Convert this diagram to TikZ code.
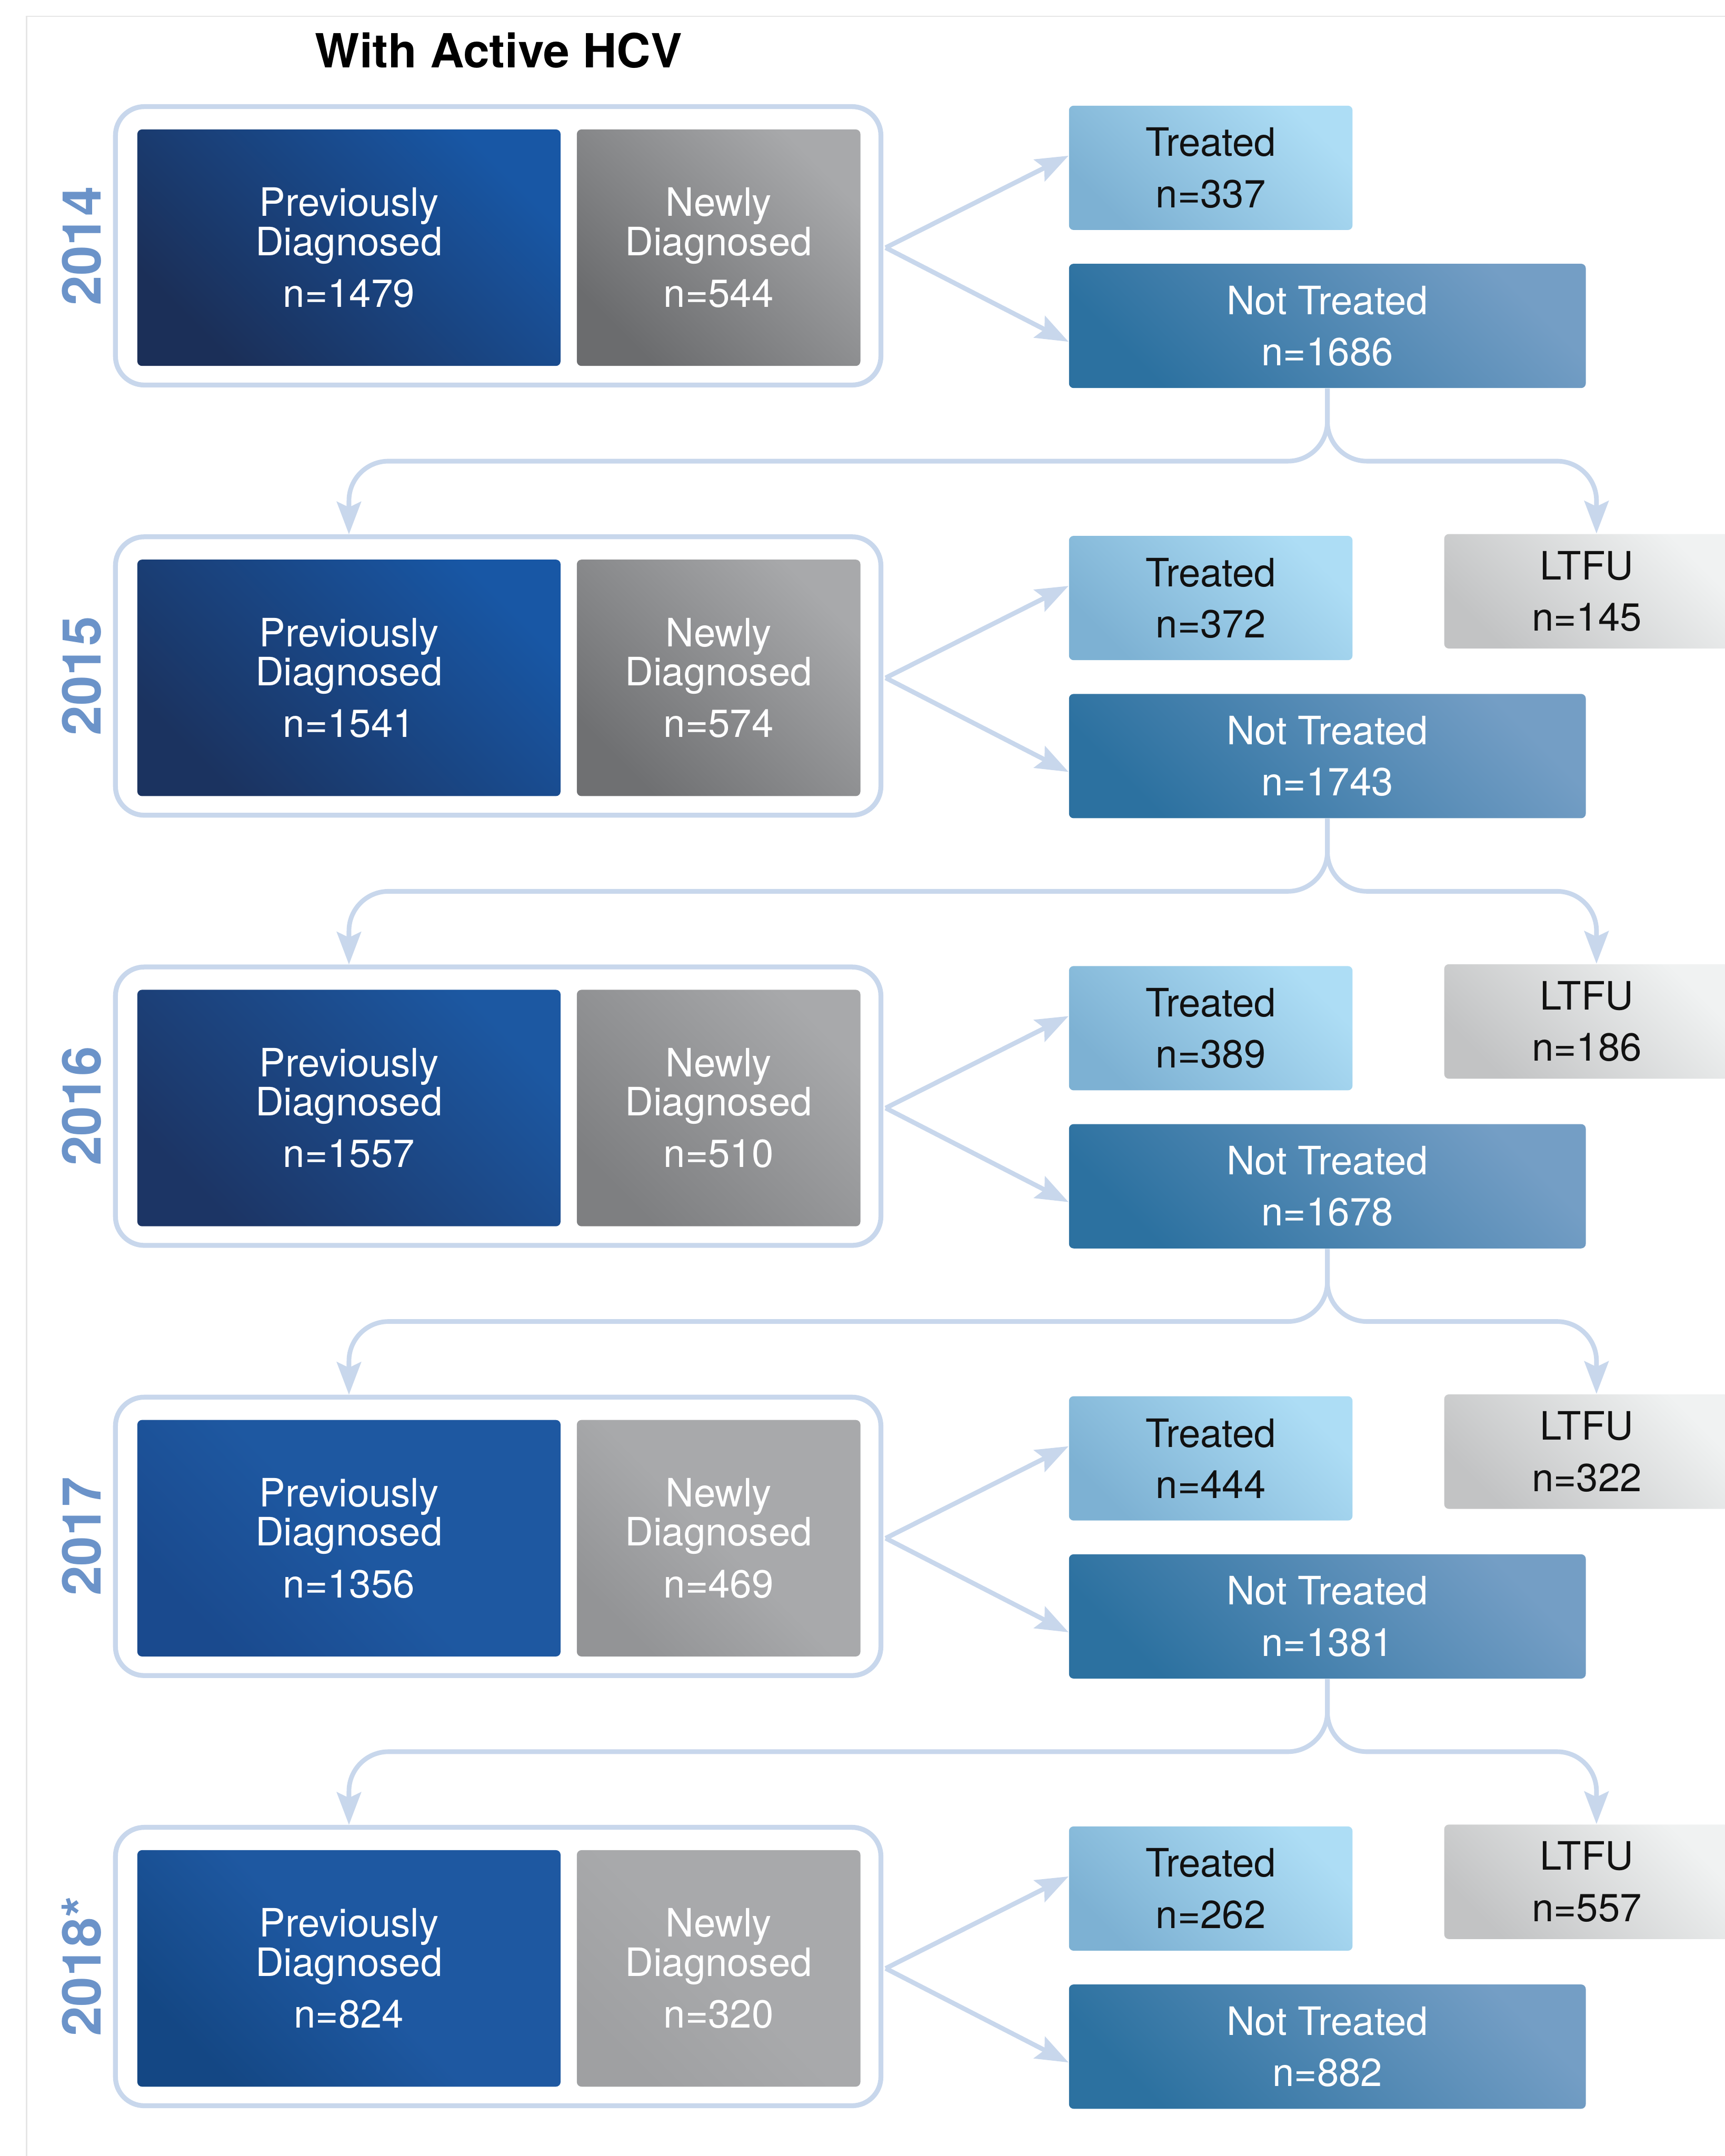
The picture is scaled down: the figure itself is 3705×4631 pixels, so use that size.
\documentclass[tikz,border=0pt]{standalone}
\usepackage{fontspec}
\setmainfont{TeX Gyre Heros}
\usetikzlibrary{arrows.meta,calc}
\definecolor{linec}{HTML}{C8D7EC}
\definecolor{yearc}{HTML}{6B93C9}
\definecolor{framec}{HTML}{E6E6E6}
\definecolor{txtdark}{HTML}{111111}
% previously diagnosed
\definecolor{pbA}{HTML}{1B2F58}\definecolor{pbB}{HTML}{1B3360}\definecolor{pbC}{HTML}{1C3565}\definecolor{pbD}{HTML}{1A4A8E}\definecolor{pbE}{HTML}{144784}
\definecolor{ptA}{HTML}{1857A5}\definecolor{ptB}{HTML}{1857A5}\definecolor{ptC}{HTML}{1C58A2}\definecolor{ptD}{HTML}{1E58A1}\definecolor{ptE}{HTML}{1E58A1}
% newly diagnosed
\definecolor{nbA}{HTML}{6B6C6E}\definecolor{nbB}{HTML}{6F7072}\definecolor{nbC}{HTML}{7E7F81}\definecolor{nbD}{HTML}{939496}\definecolor{nbE}{HTML}{9FA0A2}
\definecolor{ntop}{HTML}{A8A9AB}
\definecolor{trbl}{HTML}{7DB1D3}\definecolor{trtr}{HTML}{ADDDF5}
\definecolor{ntbl}{HTML}{2C71A0}\definecolor{nttr}{HTML}{749EC5}
\definecolor{ltbl}{HTML}{C2C3C4}\definecolor{lttr}{HTML}{F0F2F2}
\tikzset{
  btext/.style={font=\fontsize{16.8}{16.8}\selectfont, align=center, inner sep=0pt},
  yearbox/.style={draw=linec, line width=2.1pt, rounded corners=12.4pt, fill=white,
    minimum width=328.8pt, minimum height=119.6pt, inner sep=0pt},
  prevbox/.style 2 args={btext, text=white, rounded corners=2pt, minimum width=181.8pt, minimum height=101.6pt,
    bottom color=#1, top color=#2, shading angle=-45},
  newbox/.style 2 args={btext, text=white, rounded corners=2pt, minimum width=121.8pt, minimum height=101.6pt,
    bottom color=#1, top color=#2, shading angle=-45},
  trbox/.style={btext, text=txtdark, rounded corners=2pt, minimum width=121.8pt, minimum height=53.4pt,
    bottom color=trbl, top color=trtr, shading angle=-45},
  ntbox/.style={btext, text=white, rounded corners=2pt, minimum width=222pt, minimum height=53.4pt,
    bottom color=ntbl, top color=nttr, shading angle=-45},
  ltbox/.style={btext, text=txtdark, rounded corners=2pt, minimum width=122.4pt, minimum height=49.2pt,
    bottom color=ltbl, top color=lttr, shading angle=-45},
  yearlbl/.style={font=\fontsize{23}{23}\selectfont\bfseries, text=yearc, rotate=90, inner sep=0pt},
  arr/.style={draw=linec, line width=2pt, -{Stealth[length=14pt,width=10.4pt,inset=2.4pt]}},
  conn/.style={arr, rounded corners=17pt},
}
\begin{document}
\begin{tikzpicture}[x=0.2pt, y=-0.2pt]
\useasboundingbox (0,0) rectangle (3705,4631);
\clip (0,0) rectangle (3705,4631);
\fill[white] (0,0) rectangle (3705,4631);
\draw[framec, line width=0.55pt] (57,4700) -- (57,35) -- (3760,35);
\node[font=\fontsize{20.2}{20.2}\selectfont\bfseries, text=black, inner sep=0pt] (title) at (1071,108) {With Active HCV};

% ---------- rows ----------
% row 0 : 2014
\node[yearbox] (yb0) at (1070,528) {};
\node[prevbox={pbA}{ptA}] (pd0) at (749.5,532) {Previously\\Diagnosed\\[5.4pt]n=1479};
\node[newbox={nbA}{ntop}] (nd0) at (1543.5,532) {Newly\\Diagnosed\\[5.4pt]n=544};
\node[yearlbl] (y0) at (175,528) {2014};
\node[trbox] (tr0) at (2600.5,360.5) {Treated\\[5.2pt]n=337};
\node[ntbox] (nt0) at (2851,700) {Not Treated\\[5.2pt]n=1686};

% row 1 : 2015
\node[yearbox] (yb1) at (1070,1452) {};
\node[prevbox={pbB}{ptB}] (pd1) at (749.5,1456) {Previously\\Diagnosed\\[5.4pt]n=1541};
\node[newbox={nbB}{ntop}] (nd1) at (1543.5,1456) {Newly\\Diagnosed\\[5.4pt]n=574};
\node[yearlbl] (y1) at (175,1452) {2015};
\node[trbox] (tr1) at (2600.5,1284.5) {Treated\\[5.2pt]n=372};
\node[ntbox] (nt1) at (2851,1624) {Not Treated\\[5.2pt]n=1743};
\node[ltbox] (lt1) at (3408,1270) {LTFU\\[5.2pt]n=145};

% row 2 : 2016
\node[yearbox] (yb2) at (1070,2376) {};
\node[prevbox={pbC}{ptC}] (pd2) at (749.5,2380) {Previously\\Diagnosed\\[5.4pt]n=1557};
\node[newbox={nbC}{ntop}] (nd2) at (1543.5,2380) {Newly\\Diagnosed\\[5.4pt]n=510};
\node[yearlbl] (y2) at (175,2376) {2016};
\node[trbox] (tr2) at (2600.5,2208.5) {Treated\\[5.2pt]n=389};
\node[ntbox] (nt2) at (2851,2548) {Not Treated\\[5.2pt]n=1678};
\node[ltbox] (lt2) at (3408,2194) {LTFU\\[5.2pt]n=186};

% row 3 : 2017
\node[yearbox] (yb3) at (1070,3300) {};
\node[prevbox={pbD}{ptD}, middle color=ptD] (pd3) at (749.5,3304) {Previously\\Diagnosed\\[5.4pt]n=1356};
\node[newbox={nbD}{ntop}, middle color=ntop] (nd3) at (1543.5,3304) {Newly\\Diagnosed\\[5.4pt]n=469};
\node[yearlbl] (y3) at (175,3300) {2017};
\node[trbox] (tr3) at (2600.5,3132.5) {Treated\\[5.2pt]n=444};
\node[ntbox] (nt3) at (2851,3472) {Not Treated\\[5.2pt]n=1381};
\node[ltbox] (lt3) at (3408,3118) {LTFU\\[5.2pt]n=322};

% row 4 : 2018*
\node[yearbox] (yb4) at (1070,4224) {};
\node[prevbox={pbE}{ptE}, middle color=ptE] (pd4) at (749.5,4228) {Previously\\Diagnosed\\[5.4pt]n=824};
\node[newbox={nbE}{ntop}, middle color=ntop] (nd4) at (1543.5,4228) {Newly\\Diagnosed\\[5.4pt]n=320};
\node[yearlbl] (y4) at (175,4224) {2018*};
\node[trbox] (tr4) at (2600.5,4056.5) {Treated\\[5.2pt]n=262};
\node[ntbox] (nt4) at (2851,4396) {Not Treated\\[5.2pt]n=882};
\node[ltbox] (lt4) at (3408,4042) {LTFU\\[5.2pt]n=557};

% ---------- connectors ----------
\foreach \r in {0,...,4}{
  \draw[arr] ([shift={(5,4)}]yb\r.east) -- ([shift={(0,-26)}]tr\r.west);
  \draw[arr] ([shift={(5,4)}]yb\r.east) -- ([shift={(0,34)}]nt\r.west);
}
\foreach \r/\s in {0/1,1/2,2/3,3/4}{
  \coordinate (h\r) at ($(nt\r.south)+(0,156)$);
  \draw[conn] (nt\r.south) -- (h\r) -| (pd\s.center |- yb\s.north);
  \draw[conn] (nt\r.south) -- (h\r) -| ([xshift=4.2pt]lt\s.north);
}
\end{tikzpicture}
\end{document}
